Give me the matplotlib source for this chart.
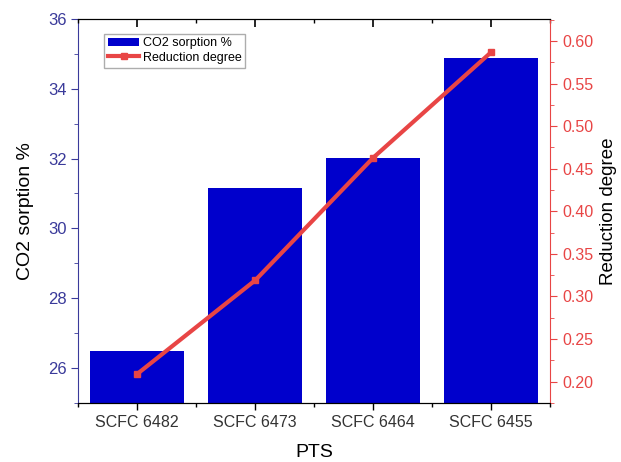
import numpy as np
import matplotlib
matplotlib.use("Agg")
import matplotlib.pyplot as plt
from matplotlib.ticker import MultipleLocator, FormatStrFormatter

plt.rcParams['font.family'] = ['Liberation Sans', 'DejaVu Sans']

samples = ['SCFC 6482', 'SCFC 6473', 'SCFC 6464', 'SCFC 6455']
co2_sorption = [26.5, 31.15, 32.03, 34.88]
reduction_degree = [0.209, 0.319, 0.463, 0.587]

blue = '#0000cc'
axis_blue = '#3a3a9a'
red = '#e84545'

fig, ax = plt.subplots(figsize=(6.21, 4.62), dpi=100)
fig.subplots_adjust(left=0.126, right=0.886, top=0.959, bottom=0.128)

x = np.arange(len(samples))
bars = ax.bar(x, co2_sorption, width=0.8, color=blue, label='CO2 sorption %', zorder=2)
ax.set_xlim(-0.5, 3.5)
ax.set_ylim(25, 36)
ax.set_xticks(x)
ax.set_xticklabels(samples, fontsize=11.5, color='#333333')
ax.xaxis.set_minor_locator(MultipleLocator(1, offset=0.5))
ax.yaxis.set_major_locator(MultipleLocator(2))
ax.yaxis.set_minor_locator(MultipleLocator(1))
ax.set_xlabel('PTS', fontsize=14, labelpad=10)
ax.set_ylabel('CO2 sorption %', fontsize=14, labelpad=10)

ax.tick_params(axis='x', which='both', direction='out', length=5, width=1)
ax.tick_params(axis='x', which='minor', length=3)
ax.tick_params(axis='y', which='major', direction='out', length=5,
               colors=axis_blue, labelsize=12)
ax.tick_params(axis='y', which='minor', direction='out', length=3, colors=axis_blue)
ax.spines['left'].set_color(axis_blue)
ax.spines['right'].set_visible(False)

ax2 = ax.twinx()
line, = ax2.plot(x, reduction_degree, color=red, lw=3, marker='s', ms=5,
                 label='Reduction degree', zorder=3)
ax2.set_ylim(0.175, 0.626)
ax2.yaxis.set_major_locator(MultipleLocator(0.05))
ax2.yaxis.set_minor_locator(MultipleLocator(0.025))
ax2.yaxis.set_major_formatter(FormatStrFormatter('%.2f'))
ax2.tick_params(axis='y', which='major', direction='out', length=5,
                colors=red, labelsize=11.5)
ax2.tick_params(axis='y', which='minor', direction='out', length=3, colors=red)
ax2.spines['right'].set_color(red)
ax2.spines['left'].set_visible(False)
ax2.set_ylabel('Reduction degree', fontsize=13.5, labelpad=5)

# mirrored ticks on the top edge, pointing inward (drawn by the twin's x axis)
ax2.xaxis.set_visible(True)
ax2.set_xticks(x)
ax2.xaxis.set_minor_locator(MultipleLocator(1, offset=0.5))
ax2.tick_params(axis='x', which='both', bottom=False, top=True, direction='in',
                labelbottom=False, labeltop=False, length=6, width=1.2, color='black')
ax2.tick_params(axis='x', which='minor', length=3, width=1)

ax2.legend([bars, line], ['CO2 sorption %', 'Reduction degree'],
           loc='upper left', bbox_to_anchor=(0.055, 0.962), fontsize=9,
           frameon=True, fancybox=False, edgecolor='#999999',
           handlelength=2.5, handletextpad=0.3, borderpad=0.3,
           labelspacing=0.2, borderaxespad=0)

fig.savefig('out.png', dpi=100)
